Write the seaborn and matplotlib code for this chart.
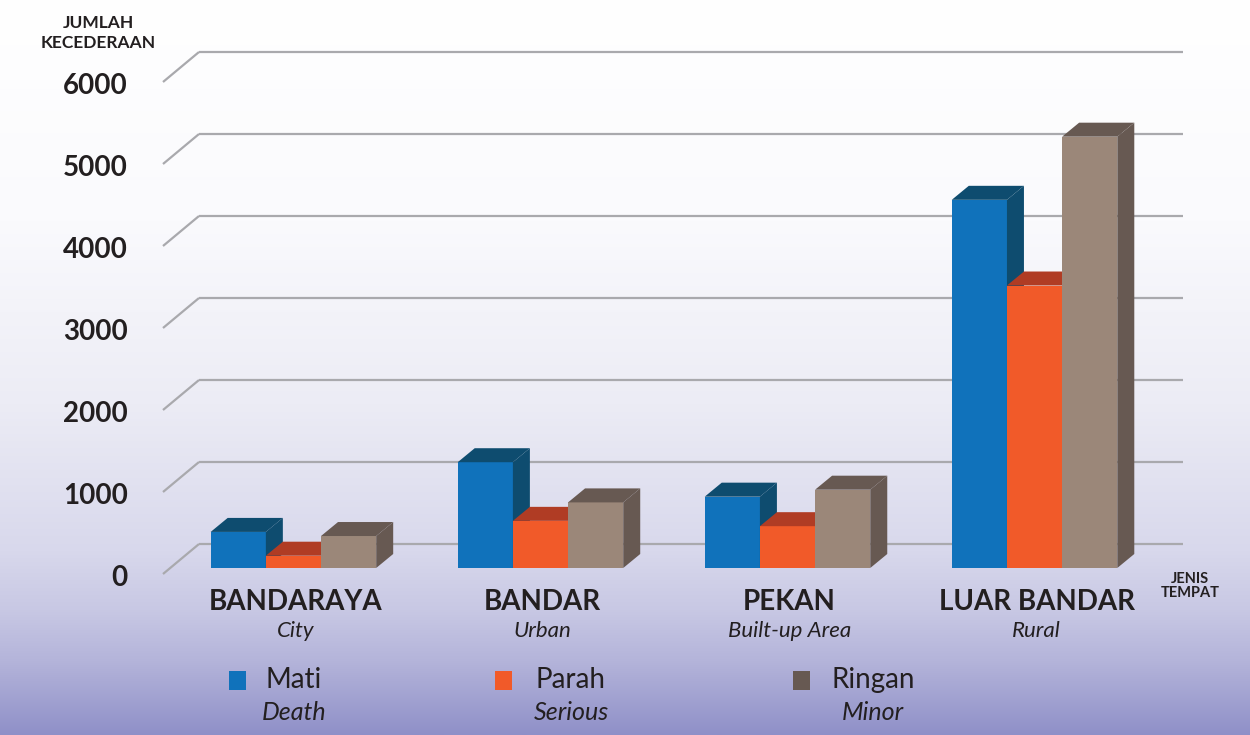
import numpy as np
import pandas as pd
import matplotlib
matplotlib.use("Agg")
import matplotlib.pyplot as plt
import seaborn as sns
from matplotlib.patches import Polygon, Rectangle

# data (jumlah kecederaan per jenis tempat)
categories = ["BANDARAYA", "BANDAR", "PEKAN", "LUAR BANDAR"]
categories_en = ["City", "Urban", "Built-up Area", "Rural"]
severity = ["Mati", "Parah", "Ringan"]
severity_en = ["Death", "Serious", "Minor"]
mati = [440, 1290, 870, 4490]
parah = [150, 575, 510, 3445]
ringan = [390, 800, 955, 5260]
y_ticks = [0, 1000, 2000, 3000, 4000, 5000, 6000]

front_colors = ["#1072bb", "#f15a29", "#9b8779"]
shade_colors = ["#0e4c6f", "#b03c24", "#675952"]
legend_colors = ["#1072bb", "#f15a29", "#675952"]
text_color = "#231f20"
grid_color = "#a9a9ad"

df = pd.DataFrame({
    "tempat": categories * 3,
    "jenis": np.repeat(severity, len(categories)),
    "jumlah": mati + parah + ringan,
})

sns.set_style("white")
plt.rcParams["font.family"] = ["Lato", "DejaVu Sans"]

W, H = 1250, 735
fig = plt.figure(figsize=(W / 100, H / 100), dpi=100)

# background gradient
bg = fig.add_axes([0, 0, 1, 1], zorder=0)
stops = [(0.0, "#ffffff"), (0.3, "#fafafd"), (0.55, "#ececf5"),
         (0.75, "#d8d8ec"), (0.83, "#c8c8e4"), (0.9, "#b4b4da"), (1.0, "#8f90c8")]
pos = np.array([s[0] for s in stops])
rgb = np.array([matplotlib.colors.to_rgb(s[1]) for s in stops])
t = np.linspace(0, 1, H)
grad = np.stack([np.interp(t, pos, rgb[:, c]) for c in range(3)], axis=1)
bg.imshow(grad[:, None, :], aspect="auto", extent=[0, 1, 0, 1])
bg.set_axis_off()

# main axes: front plane, y=0 at pixel 568
left_px, right_px, base_px, top_px = 163, 1183, 568, 51.4
ax = fig.add_axes([left_px / W, (H - base_px) / H,
                   (right_px - left_px) / W, (base_px - top_px) / H], zorder=1)
sns.barplot(data=df, x="tempat", y="jumlah", hue="jenis", order=categories,
            hue_order=severity, palette=front_colors, width=0.67, saturation=1,
            errorbar=None, legend=False, linewidth=0, ax=ax)
xlim0, xlim1 = -0.528, 3.601
ax.set_xlim(xlim0, xlim1)
ax.set_ylim(0, 6300)
ax.set_axis_off()

p0 = ax.transData.transform((0, 0))
p1 = ax.transData.transform((1, 1000))
ppx = p1[0] - p0[0]
ppy = (p1[1] - p0[1]) / 1000

# perspective grid: short diagonal then horizontal line at the back
depth_x = 36 / ppx
for v in y_ticks:
    yb = v + 24 / ppy
    ax.plot([xlim0, xlim0 + depth_x], [v - 6 / ppy, yb], color=grid_color,
            lw=1.6, clip_on=False, zorder=1, solid_capstyle="butt")
    ax.plot([xlim0 + depth_x, xlim1], [yb, yb], color=grid_color,
            lw=1.6, clip_on=False, zorder=1, solid_capstyle="butt")
    ax.annotate(f"{v}", xy=(xlim0, v), xytext=(-35, -10), textcoords="offset pixels",
                ha="right", va="center", fontsize=20, fontweight="bold", color=text_color)

# 3d faces for each bar
dx, dy = 17 / ppx, 14 / ppy
bars = []
for h_idx, cont in enumerate(ax.containers):
    for bar in cont:
        bars.append((bar, h_idx))
bars.sort(key=lambda b: b[0].get_x())
for k, (bar, h_idx) in enumerate(bars):
    x0 = bar.get_x()
    x1 = x0 + bar.get_width()
    h = bar.get_height()
    bar.set_zorder(3 + 3 * k)
    side = Polygon([(x1, 0), (x1 + dx, dy), (x1 + dx, h + dy), (x1, h)],
                   closed=True, facecolor=shade_colors[h_idx], edgecolor="none",
                   zorder=4 + 3 * k, clip_on=False)
    top = Polygon([(x0, h), (x1, h), (x1 + dx, h + dy), (x0 + dx, h + dy)],
                  closed=True, facecolor=shade_colors[h_idx], edgecolor="none",
                  zorder=5 + 3 * k, clip_on=False)
    ax.add_patch(side)
    ax.add_patch(top)

# category labels
for i, (cat, en) in enumerate(zip(categories, categories_en)):
    ax.annotate(cat, xy=(i, 0), xytext=(2, -34), textcoords="offset pixels",
                ha="center", va="center", fontsize=20, fontweight="bold", color=text_color)
    ax.annotate(en, xy=(i, 0), xytext=(2, -63), textcoords="offset pixels",
                ha="center", va="center", fontsize=16, fontstyle="italic",
                color=text_color)

# axis titles
fig.text(98 / W, 1 - 33 / H, "JUMLAH\nKECEDERAAN", ha="center", va="center",
         multialignment="center", fontsize=12.5, fontweight="bold",
         linespacing=1.25, color=text_color)
fig.text(1190 / W, 1 - 586 / H, "JENIS\nTEMPAT", ha="center", va="center",
         multialignment="center", fontsize=10.5, fontweight="bold",
         linespacing=1.05, color=text_color)

# legend
square_x = [229, 495, 793]
label_cx = [294, 571, 873]
for sx, cx, name, en, col in zip(square_x, label_cx, severity, severity_en, legend_colors):
    fig.add_artist(Rectangle((sx / W, 1 - 690 / H), 17 / W, 19 / H,
                             transform=fig.transFigure, facecolor=col, edgecolor="none"))
    fig.text(cx / W, 1 - 680 / H, name, ha="center", va="center", fontsize=20,
             color=text_color)
    fig.text(cx / W, 1 - 713 / H, en, ha="center", va="center", fontsize=18,
             fontstyle="italic", color=text_color)

fig.savefig("out.png", dpi=100)
